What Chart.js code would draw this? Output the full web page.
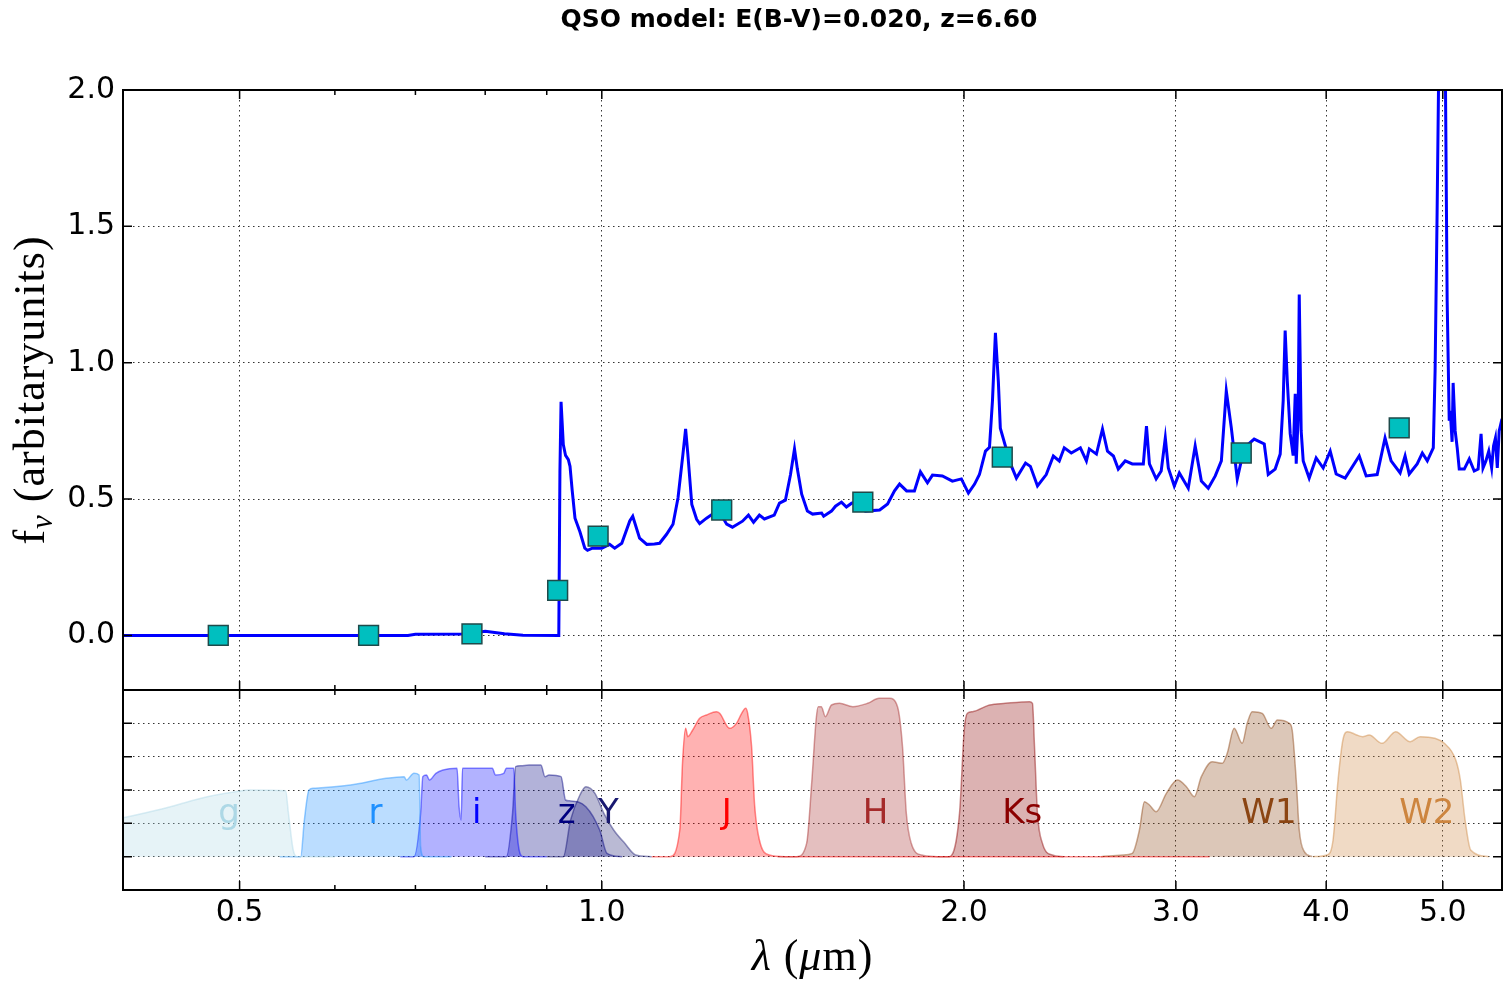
<!DOCTYPE html>
<html lang="en">
<head>
<meta charset="UTF-8">
<title>QSO model SED</title>
<script src="https://cdn.jsdelivr.net/npm/chart.js"></script>
<style>
  body { margin: 0; background: #fff; }
  canvas { display: block; }
</style>
</head>
<body>
<canvas id="sed" width="1512" height="992"></canvas>
<script>
// model spectrum, wavelength in micron and f_nu in arbitrary units
const specWave = [0.400, 0.690, 0.700, 0.765, 0.790, 0.800, 0.830, 0.860, 0.921, 0.923, 0.925, 0.929, 0.933, 0.938, 0.941, 0.945, 0.950, 0.959, 0.968, 0.973,
  0.982, 1.000, 1.015, 1.025, 1.039, 1.055, 1.061, 1.075, 1.090, 1.106, 1.117, 1.132, 1.146, 1.157, 1.168, 1.174, 1.179, 1.188, 1.199, 1.206,
  1.222, 1.236, 1.253, 1.270, 1.284, 1.309, 1.324, 1.337, 1.352, 1.365, 1.391, 1.405, 1.421, 1.435, 1.446, 1.454, 1.466, 1.482, 1.497, 1.523,
  1.529, 1.552, 1.564, 1.582, 1.597, 1.613, 1.648, 1.657, 1.702, 1.728, 1.751, 1.768, 1.792, 1.819, 1.840, 1.865, 1.883, 1.919, 1.956, 1.990,
  2.017, 2.041, 2.060, 2.084, 2.100, 2.112, 2.124, 2.136, 2.144, 2.186, 2.211, 2.250, 2.271, 2.302, 2.341, 2.373, 2.400, 2.423, 2.456, 2.499,
  2.528, 2.542, 2.577, 2.607, 2.632, 2.662, 2.687, 2.723, 2.760, 2.819, 2.836, 2.852, 2.889, 2.917, 2.940, 2.957, 2.991, 3.020, 3.072, 3.113,
  3.150, 3.192, 3.235, 3.273, 3.304, 3.336, 3.374, 3.419, 3.485, 3.553, 3.580, 3.628, 3.663, 3.684, 3.698, 3.713, 3.734, 3.755, 3.770, 3.777,
  3.791, 3.799, 3.813, 3.828, 3.872, 3.924, 3.977, 4.031, 4.077, 4.148, 4.261, 4.318, 4.410, 4.477, 4.529, 4.608, 4.652, 4.689, 4.761, 4.808,
  4.854, 4.910, 4.927, 4.946, 4.965, 4.984, 5.022, 5.042, 5.062, 5.072, 5.090, 5.100, 5.120, 5.140, 5.160, 5.210, 5.260, 5.310, 5.350, 5.380,
  5.400, 5.430, 5.460, 5.490, 5.510, 5.530, 5.550, 5.570, 5.600];
const specFlux = [0.000, 0.000, 0.004, 0.005, 0.012, 0.015, 0.006, 0.001, 0.000, 0.600, 0.857, 0.700, 0.660, 0.645, 0.620, 0.530, 0.430, 0.380, 0.320, 0.312,
  0.320, 0.320, 0.334, 0.320, 0.338, 0.420, 0.437, 0.357, 0.334, 0.335, 0.338, 0.371, 0.408, 0.504, 0.665, 0.757, 0.665, 0.480, 0.426, 0.410,
  0.430, 0.445, 0.452, 0.408, 0.397, 0.419, 0.441, 0.415, 0.441, 0.427, 0.441, 0.485, 0.496, 0.590, 0.684, 0.610, 0.518, 0.456, 0.445, 0.449,
  0.437, 0.456, 0.474, 0.489, 0.471, 0.485, 0.495, 0.456, 0.460, 0.482, 0.530, 0.555, 0.530, 0.530, 0.600, 0.560, 0.588, 0.585, 0.566, 0.574,
  0.522, 0.555, 0.590, 0.676, 0.690, 0.860, 1.110, 0.930, 0.760, 0.630, 0.577, 0.632, 0.620, 0.548, 0.590, 0.658, 0.640, 0.688, 0.669, 0.688,
  0.640, 0.684, 0.665, 0.757, 0.676, 0.658, 0.610, 0.640, 0.629, 0.629, 0.768, 0.629, 0.574, 0.603, 0.724, 0.614, 0.548, 0.596, 0.540, 0.695,
  0.566, 0.540, 0.585, 0.640, 0.897, 0.761, 0.574, 0.688, 0.720, 0.702, 0.590, 0.610, 0.665, 0.860, 1.118, 0.934, 0.739, 0.660, 0.886, 0.630,
  0.800, 1.250, 0.750, 0.640, 0.577, 0.651, 0.614, 0.676, 0.592, 0.577, 0.658, 0.585, 0.590, 0.724, 0.640, 0.596, 0.658, 0.592, 0.629, 0.669,
  0.640, 0.688, 0.970, 1.550, 2.200, 3.500, 2.200, 1.230, 0.787, 0.824, 0.710, 0.926, 0.750, 0.688, 0.610, 0.610, 0.647, 0.603, 0.610, 0.739,
  0.614, 0.640, 0.676, 0.614, 0.695, 0.724, 0.614, 0.750, 0.794];

// synthetic photometry, one point per band
const bandNames = ['g', 'r', 'i', 'z', 'Y', 'J', 'H', 'Ks', 'W1', 'W2'];
const photWave = [0.480, 0.640, 0.780, 0.919, 0.993, 1.258, 1.648, 2.152, 3.400, 4.600];
const photFlux = [0.000, 0.000, 0.006, 0.165, 0.364, 0.460, 0.489, 0.654, 0.669, 0.761];
const bandColors = ['#ADD8E6', '#1E90FF', '#0000FF', '#000080', '#191970', '#FF0000', '#A52A2A', '#8B0000', '#8B4513', '#CD853F'];

// filter transmission curves (scaled)
const gWave = [0.380, 0.400, 0.410, 0.438, 0.470, 0.496, 0.510, 0.546, 0.549, 0.554, 0.558, 0.600];
const gTrans = [0.200, 0.233, 0.250, 0.300, 0.360, 0.390, 0.400, 0.395, 0.260, 0.040, 0.000, 0.000];
const rWave = [0.540, 0.562, 0.566, 0.571, 0.576, 0.618, 0.662, 0.685, 0.688, 0.698, 0.705, 0.707, 0.711, 0.750];
const rTrans = [0.000, 0.000, 0.220, 0.400, 0.410, 0.430, 0.470, 0.480, 0.460, 0.500, 0.490, 0.060, 0.000, 0.000];
const iWave = [0.680, 0.698, 0.707, 0.710, 0.715, 0.719, 0.728, 0.738, 0.758, 0.761, 0.764, 0.766, 0.811, 0.816, 0.829, 0.833, 0.845, 0.848, 0.855, 0.860, 0.900];
const iTrans = [0.000, 0.000, 0.260, 0.480, 0.490, 0.460, 0.500, 0.520, 0.530, 0.300, 0.220, 0.530, 0.530, 0.490, 0.500, 0.530, 0.530, 0.260, 0.020, 0.000, 0.000];
const zWave = [0.800, 0.833, 0.843, 0.848, 0.856, 0.870, 0.890, 0.897, 0.904, 0.925, 0.933, 0.940, 0.970, 0.996, 1.010, 1.040];
const zTrans = [0.000, 0.000, 0.260, 0.540, 0.545, 0.550, 0.550, 0.480, 0.490, 0.480, 0.340, 0.335, 0.300, 0.160, 0.020, 0.000];
const yWave = [0.900, 0.929, 0.942, 0.959, 0.970, 0.987, 1.004, 1.023, 1.045, 1.067, 1.100];
const yTrans = [0.000, 0.000, 0.220, 0.370, 0.420, 0.380, 0.260, 0.160, 0.080, 0.010, 0.000];
const jWave = [1.100, 1.139, 1.161, 1.167, 1.174, 1.179, 1.190, 1.206, 1.222, 1.245, 1.253, 1.277, 1.294, 1.307, 1.317, 1.322, 1.332, 1.340, 1.352, 1.378, 1.420, 3.200];
const jTrans = [0.000, 0.000, 0.160, 0.560, 0.770, 0.720, 0.760, 0.830, 0.850, 0.870, 0.860, 0.770, 0.800, 0.860, 0.890, 0.860, 0.660, 0.300, 0.100, 0.010, 0.000, 0.000];
const hWave = [1.400, 1.452, 1.480, 1.495, 1.507, 1.513, 1.522, 1.534, 1.552, 1.576, 1.617, 1.663, 1.700, 1.734, 1.761, 1.778, 1.791, 1.808, 1.844, 1.900];
const hTrans = [0.000, 0.000, 0.080, 0.460, 0.820, 0.900, 0.900, 0.840, 0.910, 0.920, 0.900, 0.920, 0.950, 0.950, 0.900, 0.660, 0.260, 0.080, 0.010, 0.000];
const ksWave = [1.900, 1.945, 1.983, 2.001, 2.013, 2.033, 2.100, 2.165, 2.267, 2.280, 2.289, 2.302, 2.324, 2.368, 2.420];
const ksTrans = [0.000, 0.000, 0.260, 0.760, 0.860, 0.870, 0.910, 0.920, 0.930, 0.920, 0.660, 0.260, 0.080, 0.010, 0.000];
const w1Wave = [2.600, 2.710, 2.760, 2.798, 2.825, 2.852, 2.889, 2.946, 3.009, 3.061, 3.108, 3.150, 3.216, 3.278, 3.310, 3.354, 3.406, 3.439, 3.472, 3.539, 3.601, 3.643, 3.727, 3.748, 3.777, 3.799, 3.836, 3.895];
const w1Trans = [0.000, 0.010, 0.020, 0.160, 0.330, 0.310, 0.270, 0.380, 0.460, 0.420, 0.360, 0.480, 0.570, 0.560, 0.620, 0.770, 0.680, 0.800, 0.870, 0.860, 0.770, 0.820, 0.800, 0.760, 0.460, 0.160, 0.030, 0.000];
const w2Wave = [3.900, 4.007, 4.053, 4.092, 4.130, 4.169, 4.241, 4.289, 4.343, 4.452, 4.569, 4.698, 4.787, 4.924, 5.015, 5.126, 5.171, 5.218, 5.274, 5.460];
const w2Trans = [0.000, 0.010, 0.100, 0.460, 0.700, 0.750, 0.730, 0.720, 0.730, 0.680, 0.750, 0.690, 0.720, 0.710, 0.680, 0.580, 0.460, 0.220, 0.040, 0.000];

const filterWaves = [gWave, rWave, iWave, zWave, yWave, jWave, hWave, ksWave, w1Wave, w2Wave];
const filterTrans = [gTrans, rTrans, iTrans, zTrans, yTrans, jTrans, hTrans, ksTrans, w1Trans, w2Trans];

// axis ticks
const xMajor = [0.5, 1, 2, 3, 4, 5];
const xMinor = [0.6, 0.7, 0.8, 0.9];
const fluxTicks = [0, 0.5, 1, 1.5, 2];
const filtTicks = [0, 0.2, 0.4, 0.6, 0.8];

const titleText = 'QSO model: E(B-V)=0.020, z=6.60';

function rgba(hex, a) {
    const n = parseInt(hex.slice(1), 16);
    return `rgba(${n >> 16}, ${(n >> 8) & 255}, ${n & 255}, ${a})`;
}

function pairs(xs, ys) {
    return xs.map((x, i) => ({ x: x, y: ys[i] }));
}

// draws a run of text pieces with their own fonts, centred on cx
function drawRun(ctx, parts, cx, base) {
    let total = 0;
    parts.forEach(p => { ctx.font = p[0]; total += ctx.measureText(p[1]).width; });
    let x = cx - total / 2;
    ctx.textAlign = 'left';
    ctx.textBaseline = 'alphabetic';
    parts.forEach(p => {
        ctx.font = p[0];
        ctx.fillText(p[1], x, base + (p[2] || 0));
        x += ctx.measureText(p[1]).width;
    });
}

const gridColor = 'rgba(0, 0, 0, 0.8)';
const serif = '"Liberation Serif", serif';

// frame, inward tick marks and band labels (matplotlib classic look)
const framePlugin = {
    id: 'frame',
    afterDatasetsDraw(chart) {
        const ctx = chart.ctx;
        const x = chart.scales.x;
        const y2 = chart.scales.y2;
        ctx.save();
        ctx.font = '34px "DejaVu Sans"';
        ctx.textAlign = 'left';
        ctx.textBaseline = 'alphabetic';
        bandNames.forEach((name, i) => {
            ctx.fillStyle = bandColors[i];
            ctx.fillText(name, x.getPixelForValue(photWave[i]), y2.getPixelForValue(0.2));
        });

        const panels = [[chart.scales.y, fluxTicks], [y2, filtTicks]];
        panels.forEach(([s, tv]) => {
            ctx.strokeStyle = '#000';
            ctx.lineWidth = 1.5;
            ctx.beginPath();
            xMajor.forEach(v => {
                const px = x.getPixelForValue(v);
                ctx.moveTo(px, s.top); ctx.lineTo(px, s.top + 9);
                ctx.moveTo(px, s.bottom); ctx.lineTo(px, s.bottom - 9);
            });
            xMinor.forEach(v => {
                const px = x.getPixelForValue(v);
                ctx.moveTo(px, s.top); ctx.lineTo(px, s.top + 5);
                ctx.moveTo(px, s.bottom); ctx.lineTo(px, s.bottom - 5);
            });
            tv.forEach(v => {
                const py = s.getPixelForValue(v);
                ctx.moveTo(x.left, py); ctx.lineTo(x.left + 9, py);
                ctx.moveTo(x.right, py); ctx.lineTo(x.right - 9, py);
            });
            ctx.stroke();
            ctx.lineWidth = 2;
            ctx.strokeRect(x.left, s.top, x.right - x.left, s.bottom - s.top);
        });
        ctx.restore();
    },
    afterDraw(chart) {
        const ctx = chart.ctx;
        const area = chart.chartArea;
        const y = chart.scales.y;
        ctx.save();
        ctx.fillStyle = '#000';
        ctx.font = 'bold 25px "DejaVu Sans"';
        ctx.textAlign = 'center';
        ctx.textBaseline = 'middle';
        ctx.fillText(titleText, 799, 20);

        ctx.letterSpacing = '1px';
        drawRun(ctx, [
            ['italic 44px ' + serif, 'λ'],
            ['44px ' + serif, ' ('],
            ['italic 44px ' + serif, 'μ'],
            ['44px ' + serif, 'm)']
        ], (area.left + area.right) / 2, 970);

        ctx.translate(33, (y.top + y.bottom) / 2);
        ctx.rotate(-Math.PI / 2);
        drawRun(ctx, [
            ['44px ' + serif, 'f'],
            ['italic 31px ' + serif, 'ν', 8],
            ['44px ' + serif, ' (arbitaryunits)']
        ], 0, 11);
        ctx.restore();
    }
};

const datasets = [];
datasets.push({
    label: 'photometry',
    data: pairs(photWave, photFlux),
    yAxisID: 'y',
    showLine: false,
    pointStyle: 'rect',
    pointRadius: 14,
    backgroundColor: '#00BFBF',
    borderColor: '#1F4A4A',
    borderWidth: 1.5,
    order: 0
});
datasets.push({
    label: 'model',
    data: pairs(specWave, specFlux),
    yAxisID: 'y',
    borderColor: '#0000FF',
    borderWidth: 3,
    pointRadius: 0,
    tension: 0,
    order: 1
});
bandNames.forEach((name, i) => {
    datasets.push({
        label: name,
        data: pairs(filterWaves[i], filterTrans[i]),
        yAxisID: 'y2',
        borderColor: rgba(bandColors[i], 0.45),
        backgroundColor: rgba(bandColors[i], 0.3),
        borderWidth: 1.5,
        fill: 'origin',
        pointRadius: 0,
        cubicInterpolationMode: 'monotone',
        order: 2
    });
});

const tickFont = { family: 'DejaVu Sans', size: 30 };

new Chart(document.getElementById('sed'), {
    type: 'line',
    data: { datasets: datasets },
    options: {
        responsive: false,
        animation: false,
        layout: { autoPadding: false, padding: { top: 90, right: 10, bottom: 0, left: 0 } },
        plugins: {
            legend: { display: false },
            tooltip: { enabled: false }
        },
        scales: {
            x: {
                type: 'logarithmic',
                position: 'bottom',
                min: 0.4,
                max: 5.6,
                afterBuildTicks: s => { s.ticks = xMajor.concat(xMinor).sort((a, b) => a - b).map(v => ({ value: v })); },
                afterFit: s => { s.height = 102; s.paddingLeft = 0; s.paddingRight = 0; },
                ticks: {
                    autoSkip: false,
                    maxRotation: 0,
                    padding: 5,
                    color: '#000',
                    font: tickFont,
                    callback: v => xMajor.includes(v) ? v.toFixed(1) : ''
                },
                grid: {
                    drawTicks: false,
                    lineWidth: 1,
                    color: c => (c.tick && xMajor.includes(c.tick.value)) ? gridColor : 'rgba(0,0,0,0)'
                },
                border: { display: false, dash: [1.5, 3.5] }
            },
            y: {
                type: 'linear',
                position: 'left',
                stack: 'panels',
                stackWeight: 3,
                weight: 1,
                min: -0.2,
                max: 2.0,
                afterBuildTicks: s => { s.ticks = fluxTicks.map(v => ({ value: v })); },
                afterFit: s => { s.width = 123; },
                ticks: { padding: 8, color: '#000', font: tickFont, callback: v => v.toFixed(1) },
                grid: { drawTicks: false, lineWidth: 1, color: gridColor },
                border: { display: false, dash: [1.5, 3.5] }
            },
            y2: {
                type: 'linear',
                position: 'left',
                stack: 'panels',
                stackWeight: 1,
                weight: 0,
                min: -0.2,
                max: 1.0,
                afterBuildTicks: s => { s.ticks = filtTicks.map(v => ({ value: v })); },
                afterFit: s => { s.width = 123; },
                ticks: { display: false },
                grid: { drawTicks: false, lineWidth: 1, color: gridColor },
                border: { display: false, dash: [1.5, 3.5] }
            }
        }
    },
    plugins: [framePlugin]
});
</script>
</body>
</html>
